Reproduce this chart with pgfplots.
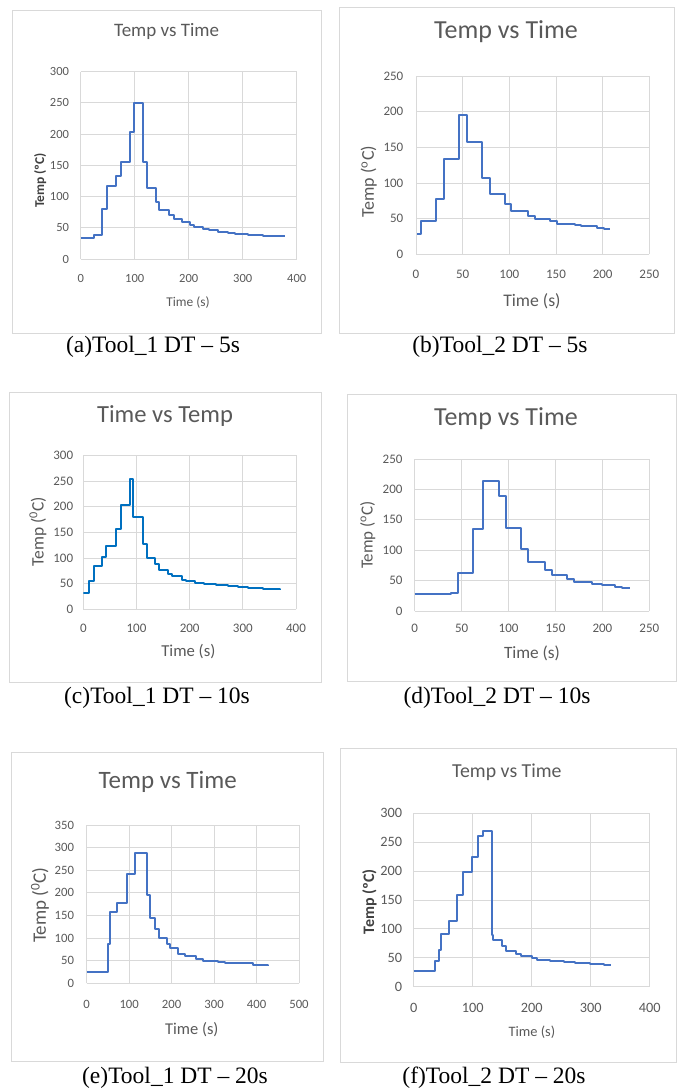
\documentclass[border=0pt]{standalone}
\usepackage{fontspec}
\setmainfont{Carlito}
\newfontfamily\capfont{Liberation Serif}
\usepackage{pgfplots}
\pgfplotsset{compat=1.18}

\definecolor{xlblue}{HTML}{4472C4}
\definecolor{xlbluetwo}{HTML}{0070C0}
\definecolor{xlgray}{HTML}{595959}
\definecolor{xldark}{HTML}{404040}
\definecolor{xlgrid}{HTML}{D9D9D9}

\newcommand{\fs}[1]{\fontsize{#1}{#1}\selectfont}

\pgfplotsset{
  tempchart/.style={
    scale only axis, anchor=south west,
    axis line style={draw=none}, tick style={draw=none},
    grid=major, major grid style={xlgrid, line width=0.9pt},
    enlargelimits=false,
    /pgf/number format/assume math mode=true,
    ticklabel style={text=xlgray},
    xticklabel style={anchor=center, yshift=-19pt},
    yticklabel style={anchor=east, inner sep=0pt, xshift=-11.5pt},
    title style={text=xlgray, anchor=center},
    xlabel style={text=xlgray, anchor=center},
    ylabel style={text=xlgray, anchor=center},
  },
  templine/.style={const plot, line width=2pt, line join=round, xlblue},
}

\begin{document}
\begin{tikzpicture}
\path[use as bounding box] (0,0) rectangle (678pt,-1092pt);

% frames round the charts
\draw[xlgrid, line width=0.9pt] (12pt,-10pt) rectangle (321pt,-333pt);
\draw[xlgrid, line width=0.9pt] (339pt,-7pt) rectangle (674pt,-333pt);
\draw[xlgrid, line width=0.9pt] (9pt,-392pt) rectangle (321pt,-682pt);
\draw[xlgrid, line width=0.9pt] (347pt,-394pt) rectangle (676pt,-681pt);
\draw[xlgrid, line width=0.9pt] (11pt,-752pt) rectangle (323pt,-1061pt);
\draw[xlgrid, line width=0.9pt] (340pt,-748pt) rectangle (676pt,-1062pt);

% (a) Tool_1 DT - 5s
\begin{axis}[tempchart, at={(80.7pt,-259pt)}, width=216pt, height=187.3pt,
  xmin=0, xmax=400, ymin=0, ymax=300,
  xtick={0,100,...,400}, ytick={0,50,...,300},
  ticklabel style={font=\fs{12.5}},
  title={Temp vs Time},
  title style={at={(axis description cs:0.398,1.180)}, font=\fs{19}},
  xlabel={Time (s)},
  xlabel style={at={(axis description cs:0.497,-0.235)}, font=\fs{13.4}},
  ylabel={Temp (ºC)},
  ylabel style={at={(axis description cs:-0.188,0.42)}, font=\bfseries\fs{13.5}, text=xldark},
]
\addplot[templine] coordinates {
  (0,34) (24,39) (40,80) (48,117) (65,133) (74,156) (91,204) (99,250)
  (116,156) (123,113) (139,92) (145,78) (164,71) (172,64) (187,59) (202,55)
  (210,51) (227,48) (238,47) (255,44) (273,42) (286,40) (310,39) (329,38)
  (338,37) (378,37)
};
\end{axis}

% (b) Tool_2 DT - 5s
\begin{axis}[tempchart, at={(416pt,-254.3pt)}, width=233.3pt, height=178.3pt,
  xmin=0, xmax=250, ymin=0, ymax=250,
  xtick={0,50,...,250}, ytick={0,50,...,250},
  ticklabel style={font=\fs{13}},
  xticklabel style={yshift=-1pt},
  yticklabel style={xshift=-1pt},
  title={Temp vs Time},
  title style={at={(axis description cs:0.386,1.213)}, font=\fs{26}},
  xlabel={Time (s)},
  xlabel style={at={(axis description cs:0.497,-0.262)}, font=\fs{17.7}},
  ylabel={Temp (\textsuperscript{o}C)},
  ylabel style={at={(axis description cs:-0.203,0.407)}, font=\fs{18}},
]
\addplot[templine] coordinates {
  (1.5,29) (5,47) (21,77) (29.5,134) (46,196) (55,157) (71,107) (79,84)
  (95,70) (102,61) (120,54) (128,49) (144,46) (151,43) (170,41) (177,39)
  (194,37) (201,36) (208,36)
};
\end{axis}

% (c) Tool_1 DT - 10s
\begin{axis}[tempchart, at={(83.3pt,-609.3pt)}, width=212.7pt, height=154pt,
  xmin=0, xmax=400, ymin=0, ymax=300,
  xtick={0,100,...,400}, ytick={0,50,...,300},
  ticklabel style={font=\fs{13}},
  yticklabel style={xshift=1.5pt},
  title={Time vs Temp},
  title style={at={(axis description cs:0.384,1.218)}, font=\fs{24.6}},
  xlabel={Time (s)},
  xlabel style={at={(axis description cs:0.494,-0.275)}, font=\fs{16.7}},
  ylabel={Temp (\textsuperscript{0}C)},
  ylabel style={at={(axis description cs:-0.213,0.504)}, font=\fs{17.5}},
]
\addplot[templine, xlbluetwo] coordinates {
  (0,32) (11,56) (20,84) (35,102) (43,124) (61,156) (70,204) (87,254)
  (94,180) (112,128) (120,99) (135,88) (143,77) (160,69) (166,64) (185,58)
  (194,55) (210,52) (227,49) (249,47) (273,45) (291,43) (310,41) (338,39)
  (370,38)
};
\end{axis}

% (d) Tool_2 DT - 10s
\begin{axis}[tempchart, at={(414.7pt,-611pt)}, width=234.6pt, height=152pt,
  xmin=0, xmax=250, ymin=0, ymax=250,
  xtick={0,50,...,250}, ytick={0,50,...,250},
  ticklabel style={font=\fs{13}},
  xticklabel style={yshift=2pt},
  yticklabel style={xshift=-0.5pt},
  title={Temp vs Time},
  title style={at={(axis description cs:0.389,1.224)}, font=\fs{26}},
  xlabel={Time (s)},
  xlabel style={at={(axis description cs:0.5,-0.276)}, font=\fs{17.3}},
  ylabel={Temp (\textsuperscript{o}C)},
  ylabel style={at={(axis description cs:-0.2,0.5)}, font=\fs{17}},
]
\addplot[templine] coordinates {
  (0,28) (39,30) (46,63) (62,135) (73,214) (90,189) (97,137) (113,102)
  (121,81) (139,68) (146,60) (162,53) (170,48) (189,44) (200,42) (213,40)
  (221,38) (229,38)
};
\end{axis}

% (e) Tool_1 DT - 20s
\begin{axis}[tempchart, at={(86.7pt,-983.3pt)}, width=212.3pt, height=158.3pt,
  xmin=0, xmax=500, ymin=0, ymax=350,
  xtick={0,100,...,500}, ytick={0,50,...,350},
  ticklabel style={font=\fs{12.7}},
  xticklabel style={yshift=-2pt},
  yticklabel style={xshift=-1pt},
  title={Temp vs Time},
  title style={at={(axis description cs:0.382,1.236)}, font=\fs{25}},
  xlabel={Time (s)},
  xlabel style={at={(axis description cs:0.495,-0.295)}, font=\fs{16.5}},
  ylabel={Temp (\textsuperscript{0}C)},
  ylabel style={at={(axis description cs:-0.22,0.495)}, font=\fs{19}},
]
\addplot[templine] coordinates {
  (0,26) (49,88) (56,157) (72,178) (96,242) (113,288) (141,195) (148,145)
  (162,120) (170,101) (188,86) (196,77) (214,65) (232,60) (257,53) (275,50)
  (310,47) (326,44) (392,41) (404,40) (428,39)
};
\end{axis}

% (f) Tool_2 DT - 20s
\begin{axis}[tempchart, at={(413.7pt,-986.7pt)}, width=236pt, height=173.4pt,
  xmin=0, xmax=400, ymin=0, ymax=300,
  xtick={0,100,...,400}, ytick={0,50,...,300},
  ticklabel style={font=\fs{14.3}},
  xticklabel style={yshift=-2pt},
  title={Temp vs Time},
  title style={at={(axis description cs:0.395,1.202)}, font=\fs{19.8}},
  xlabel={Time (s)},
  xlabel style={at={(axis description cs:0.501,-0.261)}, font=\fs{14.4}},
  ylabel={Temp (ºC)},
  ylabel style={at={(axis description cs:-0.188,0.49)}, font=\bfseries\fs{16}, text=xldark},
]
\addplot[templine] coordinates {
  (0,28) (36,44) (43,64) (47,92) (60,113) (73,158) (84,198) (98,224)
  (109,261) (117,270) (132,90) (134,80) (149,70) (156,62) (174,57) (182,53)
  (200,50) (209,47) (231,45) (254,42) (274,41) (299,40) (322,38) (334,38)
};
\end{axis}

% captions
\begin{scope}[every node/.style={anchor=base, font=\capfont\fs{23.5}}]
\node at (153pt,-352pt) {(a)Tool\_1 DT – 5s};
\node at (500pt,-352pt) {(b)Tool\_2 DT – 5s};
\node at (157pt,-703pt) {(c)Tool\_1 DT – 10s};
\node at (497pt,-703pt) {(d)Tool\_2 DT – 10s};
\node at (175pt,-1083pt) {(e)Tool\_1 DT – 20s};
\node at (494pt,-1083pt) {(f)Tool\_2 DT – 20s};
\end{scope}
\end{tikzpicture}
\end{document}
